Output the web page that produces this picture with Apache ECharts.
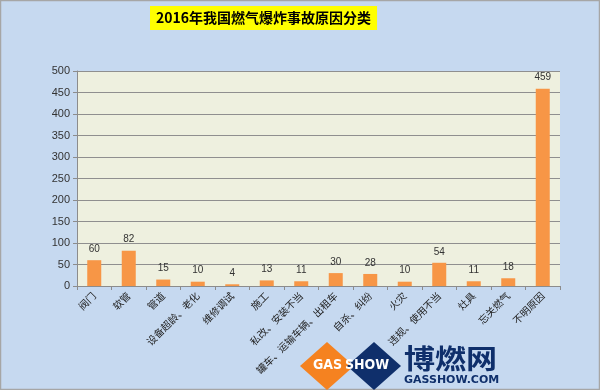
<!DOCTYPE html>
<html><head><meta charset="utf-8">
<script src="https://cdn.jsdelivr.net/npm/echarts@6/dist/echarts.min.js"></script>
<style>html,body{margin:0;padding:0;background:#c6d9f0;}#c{width:600px;height:390px;}</style>
</head><body><div id="c"></div>
<script>
const categories = ['阀门','软管','管道','设备超龄、老化','维修调试','施工','私改、安装不当','罐车、运输车辆、出租车','自杀、纠纷','火灾','违规、使用不当','灶具','忘关燃气','不明原因'];
const values = [60,82,15,10,4,13,11,30,28,10,54,11,18,459];
const titleText = '2016年我国燃气爆炸事故原因分类';

const chart = echarts.init(document.getElementById('c'));
chart.setOption({
  backgroundColor: '#c6d9f0',
  animation: false,
  title: {
    text: titleText, left: 150, top: 6,
    backgroundColor: '#ffff00', padding: [4, 6, 4, 6],
    textStyle: {fontSize: 14, fontWeight: 'bold', color: '#000', fontFamily: 'Noto Sans CJK SC', lineHeight: 16}
  },
  grid: {left: 77, right: 40, top: 71, bottom: 104, show: true, backgroundColor: '#eef0df', borderWidth: 0},
  xAxis: {
    type: 'category', data: categories,
    axisLine: {lineStyle: {color: '#8c8c8c'}},
    axisTick: {show: true, length: 4, lineStyle: {color: '#8c8c8c'}},
    axisLabel: {interval: 0, rotate: 45, fontSize: 10, color: '#222', fontFamily: 'Noto Sans CJK SC', margin: 8}
  },
  yAxis: {
    type: 'value', min: 0, max: 500, interval: 50,
    axisLine: {show: true, lineStyle: {color: '#8c8c8c'}},
    axisTick: {show: true, length: 4, lineStyle: {color: '#8c8c8c'}},
    axisLabel: {fontSize: 11, color: '#333', fontFamily: 'Liberation Sans', margin: 7},
    splitLine: {lineStyle: {color: '#8f8f8f', width: 1}}
  },
  series: [{
    type: 'bar', data: values, barWidth: 14,
    itemStyle: {color: '#f79646'},
    label: {show: true, position: 'top', fontSize: 10, color: '#333', distance: 6, fontFamily: 'Liberation Sans'}
  }],
  graphic: [
    {type: 'rect', shape: {x: 0.5, y: 0.5, width: 599, height: 389}, style: {fill: 'none', stroke: '#a6a6a6', lineWidth: 1.5}, silent: true},
    {type: 'polygon', shape: {points: [[300,366],[327,342],[354,366],[327,390]]}, style: {fill: '#f58220'}, silent: true},
    {type: 'polygon', shape: {points: [[347,366],[374,342],[401,366],[374,390]]}, style: {fill: '#0f2f6b'}, silent: true},
    {type: 'text', left: 313, top: 358, style: {text: 'GAS', fill: '#fff', font: 'bold 14px "DejaVu Sans Condensed"'}, silent: true},
    {type: 'text', left: 345, top: 358, style: {text: 'SHOW', fill: '#fff', font: 'bold 14px "DejaVu Sans Condensed"'}, silent: true},
    {type: 'text', x: 404, y: 345, scaleX: 1.15, style: {text: '博燃网', fill: '#0f2f6b', font: 'bold 27px "Noto Sans CJK SC"'}, silent: true},
    {type: 'text', left: 404, top: 375, style: {text: 'GASSHOW.COM', fill: '#0f2f6b', font: 'bold 11px "DejaVu Sans"'}, silent: true}
  ]
});
</script></body></html>
